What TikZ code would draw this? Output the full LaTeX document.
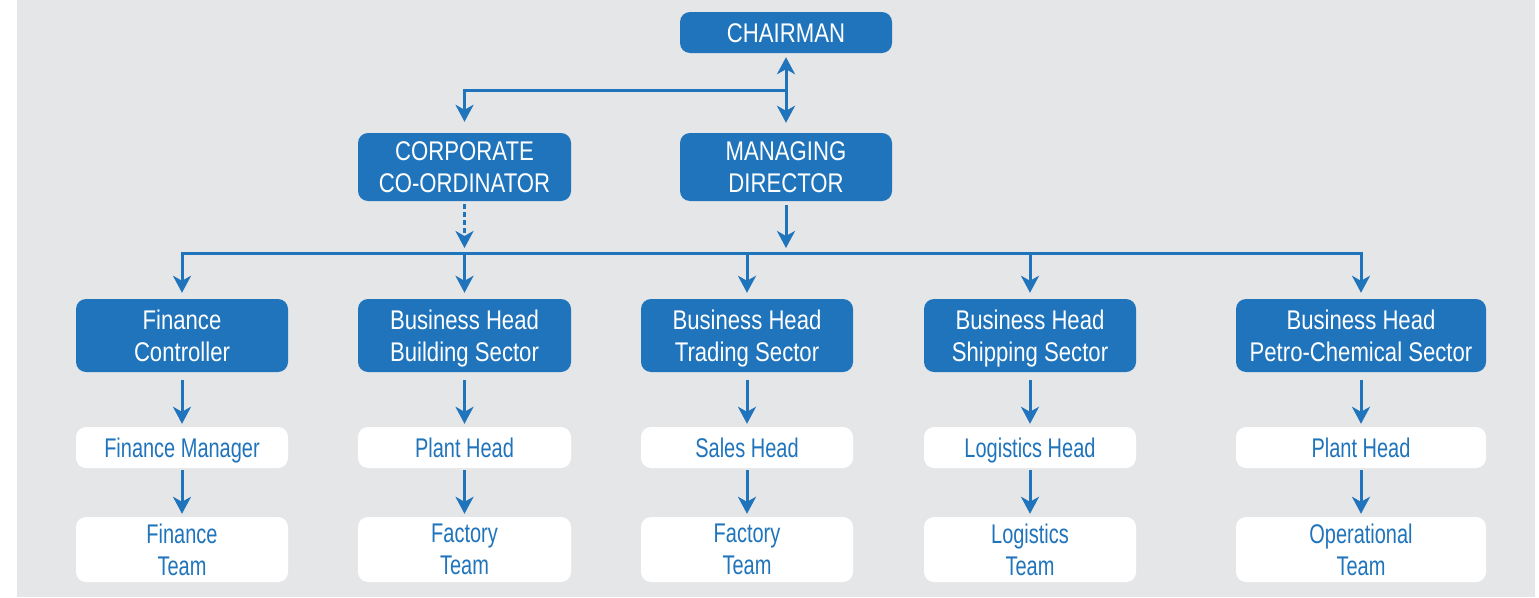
\documentclass[tikz,border=0pt]{standalone}
\usepackage{fontspec}
\usetikzlibrary{arrows.meta}
\newfontfamily\bluefnt{Liberation Sans}[FakeStretch=0.82]
\newfontfamily\whitefnt{Liberation Sans}[FakeStretch=0.74]
\definecolor{orgblue}{HTML}{1F74BC}
\definecolor{bggray}{HTML}{E5E6E8}
\tikzset{
  bluebox/.style={fill=orgblue, rounded corners=10pt, text=white, align=center,
    inner sep=0pt, text depth=0pt, font=\bluefnt\fontsize{27}{32}\selectfont},
  whitebox/.style={fill=white, rounded corners=10pt, text=orgblue, align=center,
    inner sep=0pt, text depth=0pt, font=\whitefnt\fontsize{27}{32}\selectfont},
  oneline/.style={text height=19pt, text depth=0pt},
  conn/.style={draw=orgblue, line width=3pt},
  arr/.style={conn, -{Stealth[length=17pt,width=18pt,inset=5pt]}},
  darr/.style={conn, {Stealth[length=17pt,width=18pt,inset=5pt]}-{Stealth[length=17pt,width=18pt,inset=5pt]}},
}
\begin{document}
\begin{tikzpicture}[x=1pt,y=-1pt]
\useasboundingbox (0,0) rectangle (1539,597);
\fill[bggray] (17,0) rectangle (1535,597);

% top
\node[bluebox, oneline, minimum width=212pt, minimum height=41pt] (ch) at (786,32.5) {CHAIRMAN};
\node[bluebox, minimum width=213pt, minimum height=68pt] (co) at (464.5,167) {CORPORATE\\CO-ORDINATOR};
\node[bluebox, minimum width=212pt, minimum height=68pt] (md) at (786,167) {MANAGING\\DIRECTOR};

% row 2
\node[bluebox, minimum width=212pt, minimum height=73pt] (b1) at (182,335.5) {Finance\\Controller};
\node[bluebox, minimum width=213pt, minimum height=73pt] (b2) at (464.5,335.5) {Business Head\\Building Sector};
\node[bluebox, minimum width=212pt, minimum height=73pt] (b3) at (747,335.5) {Business Head\\Trading Sector};
\node[bluebox, minimum width=212pt, minimum height=73pt] (b4) at (1030,335.5) {Business Head\\Shipping Sector};
\node[bluebox, minimum width=250pt, minimum height=73pt] (b5) at (1361,335.5) {Business Head\\Petro-Chemical Sector};

% row 3
\node[whitebox, oneline, minimum width=212pt, minimum height=41pt] (w1) at (182,447.5) {Finance Manager};
\node[whitebox, oneline, minimum width=213pt, minimum height=41pt] (w2) at (464.5,447.5) {Plant Head};
\node[whitebox, oneline, minimum width=212pt, minimum height=41pt] (w3) at (747,447.5) {Sales Head};
\node[whitebox, oneline, minimum width=212pt, minimum height=41pt] (w4) at (1030,447.5) {Logistics Head};
\node[whitebox, oneline, minimum width=250pt, minimum height=41pt] (w5) at (1361,447.5) {Plant Head};

% row 4
\node[whitebox, minimum width=212pt, minimum height=65pt] (t1) at (182,549.5) {Finance\\Team};
\node[whitebox, minimum width=213pt, minimum height=65pt] (t2) at (464.5,549.5) {Factory\\Team};
\node[whitebox, minimum width=212pt, minimum height=65pt] (t3) at (747,549.5) {Factory\\Team};
\node[whitebox, minimum width=212pt, minimum height=65pt] (t4) at (1030,549.5) {Logistics\\Team};
\node[whitebox, minimum width=250pt, minimum height=65pt] (t5) at (1361,549.5) {Operational\\Team};

% connectors top
\coordinate (j1) at (786,90);
\coordinate (bus) at (786,253);
\draw[darr, shorten <=4pt, shorten >=10pt] (ch.south) -- (md.north);
\draw[arr, shorten >=11pt] (j1) -| (co.north);
\draw[arr, dash pattern=on 5pt off 3pt, shorten <=3pt, shorten >=5pt] (co.south) -- (co.south |- bus);
\draw[arr, shorten <=4pt, shorten >=5pt] (md.south) -- (bus);

% bus
\draw[arr, shorten >=6pt] (bus) -| (b1.north);
\draw[arr, shorten >=6pt] (bus) -| (b5.north);
\foreach \b in {b2,b3,b4}{
  \draw[arr, shorten >=6pt] (\b.north |- bus) -- (\b.north);
}

% column arrows
\foreach \i in {1,...,5}{
  \draw[arr, shorten <=8pt, shorten >=3pt] (b\i.south) -- (w\i.north);
  \draw[arr, shorten <=2pt, shorten >=3pt] (w\i.south) -- (t\i.north);
}
\end{tikzpicture}
\end{document}
